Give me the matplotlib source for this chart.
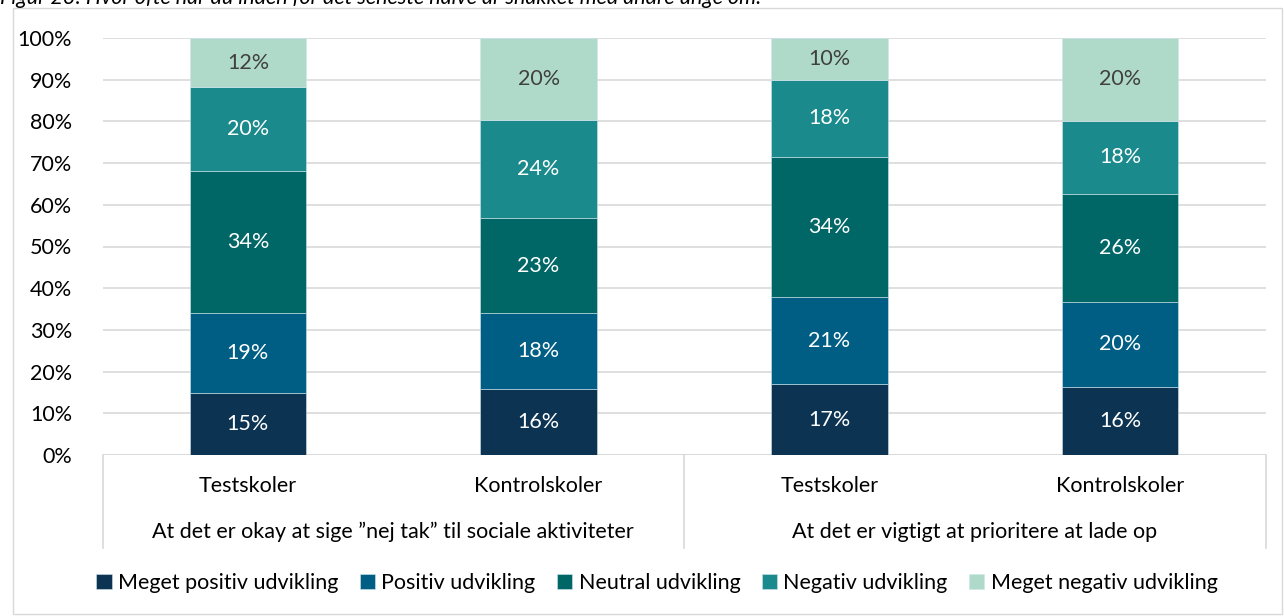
import matplotlib.pyplot as plt
import matplotlib.transforms as mtransforms
from matplotlib.patches import Rectangle
from matplotlib.lines import Line2D

plt.rcParams['font.family'] = ['Lato', 'DejaVu Sans']

title = "Figur 23: Hvor ofte har du inden for det seneste halve år snakket med andre unge om:"
bars = ["Testskoler", "Kontrolskoler", "Testskoler", "Kontrolskoler"]
groups = ["At det er okay at sige \u201dnej tak\u201d til sociale aktiviteter",
          "At det er vigtigt at prioritere at lade op"]
series = ["Meget positiv udvikling", "Positiv udvikling", "Neutral udvikling",
          "Negativ udvikling", "Meget negativ udvikling"]
meget_positiv = [14.9, 15.9, 17.0, 16.4]
positiv = [19.2, 18.1, 20.9, 20.2]
neutral = [34.0, 22.8, 33.6, 25.9]
negativ = [20.1, 23.5, 18.4, 17.7]
meget_negativ = [11.8, 19.7, 10.1, 19.7]
yticks = [0, 10, 20, 30, 40, 50, 60, 70, 80, 90, 100]

colors = ['#0C3452', '#005E85', '#006666', '#1A8A8C', '#AFDACA']
textcolors = ['white', 'white', 'white', 'white', '#404040']
FS = 15.5

W, H = 1284, 616
fig = plt.figure(figsize=(W / 100, H / 100), dpi=100)

def fx(px):
    return px / W

def fy(py):
    return 1 - py / H

# outer frame
fig.patches.append(Rectangle((fx(13), fy(614)), fx(1282) - fx(13), fy(8) - fy(614),
                             transform=fig.transFigure, fill=False,
                             edgecolor='#D9D9D9', linewidth=1))
# title, cut at the top like in the source
fig.text(0.0, fy(4), title, fontsize=FS, style='italic', va='baseline', ha='left')

ax = fig.add_axes([fx(102.5), fy(455), fx(1265.5) - fx(102.5), fy(38) - fy(455)])
x = range(len(bars))
bottom = [0] * len(bars)
data = [meget_positiv, positiv, neutral, negativ, meget_negativ]
for vals, c, tc, name in zip(data, colors, textcolors, series):
    ax.bar(x, vals, width=0.4, bottom=bottom, color=c, label=name,
           edgecolor='#D0E4EC', linewidth=0.4, zorder=3)
    for i, v in enumerate(vals):
        ax.text(i, bottom[i] + v / 2, "%.0f%%" % v, ha='center', va='center',
                color=tc, fontsize=FS, zorder=4)
    bottom = [b + v for b, v in zip(bottom, vals)]

ax.set_xlim(-0.5, 3.5)
ax.set_ylim(0, 100)
ax.set_yticks(yticks)
ax.set_yticklabels(["%d%%" % t for t in yticks], fontsize=FS)
ax.tick_params(axis='y', length=0, pad=22)
ax.set_xticks([])
ax.grid(axis='y', color='#D9D9D9', linewidth=1.2, zorder=0)
for s in ax.spines.values():
    s.set_visible(False)
ax.axhline(0, color='#D9D9D9', linewidth=1.2, zorder=2)

# category labels and group box
trans = mtransforms.blended_transform_factory(ax.transData, fig.transFigure)
for i, b in enumerate(bars):
    ax.text(i, fy(486), b, transform=trans, ha='center', va='center', fontsize=FS)
for g, xc in zip(groups, [0.5, 2.5]):
    ax.text(xc, fy(532), g, transform=trans, ha='center', va='center', fontsize=FS)
for xs in [-0.5, 1.5, 3.5]:
    fig.lines.append(Line2D([xs, xs], [fy(455), fy(548)], transform=trans,
                            color='#D9D9D9', linewidth=1.2))

handles, labels = ax.get_legend_handles_labels()
fig.legend(handles, labels, loc='center', bbox_to_anchor=(fx(657), fy(583)),
           ncol=5, frameon=False, fontsize=FS, handlelength=0.7, handleheight=0.7,
           handletextpad=0.3, columnspacing=1.0)

fig.savefig('out.png', dpi=100)
